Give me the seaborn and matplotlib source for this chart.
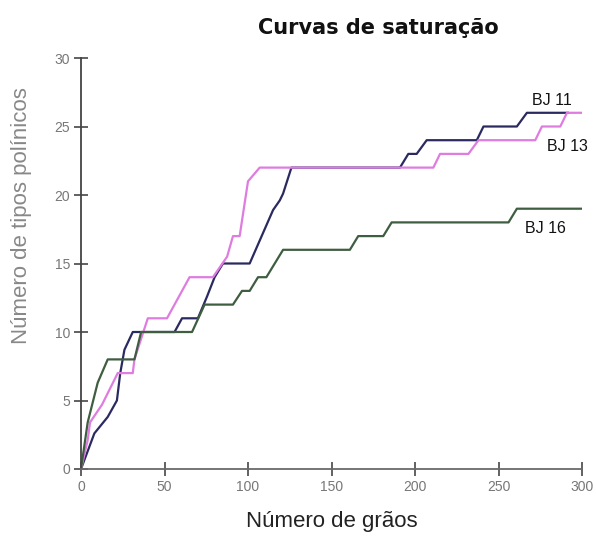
import matplotlib
matplotlib.use("Agg")
import matplotlib.pyplot as plt
import seaborn as sns
import pandas as pd

# Saturation curves: cumulative pollen types vs. grains counted
bj11_x = [0, 8, 16, 21.5, 23.5, 26, 31, 56, 60.5, 70, 75.5, 80, 85, 101, 115, 119, 121, 126,
          191, 196, 201, 207, 237, 241, 261, 267, 292]
bj11_y = [0, 2.6, 3.8, 5, 7, 8.7, 10, 10, 11, 11, 12.6, 14, 15, 15, 18.9, 19.6, 20.1, 22,
          22, 23, 23, 24, 24, 25, 25, 26, 26]

bj13_x = [0, 4, 5.4, 12.6, 22, 31, 32, 40, 51.5, 65, 79, 87.5, 91, 95, 100, 107,
          211, 215, 232, 238, 272, 276, 287, 291, 300]
bj13_y = [0, 2.1, 3.4, 4.7, 7, 7, 8, 11, 11, 14, 14, 15.5, 17, 17, 21, 22,
          22, 23, 23, 24, 24, 25, 25, 26, 26]

bj16_x = [0, 4, 10, 16, 32, 36, 66.5, 74, 91, 96.4, 101, 106, 111, 121,
          161, 166, 181, 186, 256, 261, 300]
bj16_y = [0, 3.4, 6.3, 8, 8, 10, 10, 12, 12, 13, 13, 14, 14, 16,
          16, 17, 17, 18, 18, 19, 19]

series_names = ["BJ 11", "BJ 13", "BJ 16"]
series_colors = ["#2b2a60", "#de7ce0", "#3f5d40"]

x_ticks = [0, 50, 100, 150, 200, 250, 300]
y_ticks = [0, 5, 10, 15, 20, 25, 30]

frames = []
for name, xs, ys in zip(series_names, [bj11_x, bj13_x, bj16_x], [bj11_y, bj13_y, bj16_y]):
    frames.append(pd.DataFrame({"grains": xs, "types": ys, "sample": name}))
df = pd.concat(frames, ignore_index=True)

sns.set_style("white")
plt.rcParams["font.family"] = ["Liberation Sans", "DejaVu Sans"]

fig = plt.figure(figsize=(5.96, 5.39), dpi=100)
ax = fig.add_axes([81 / 596, 70 / 539, 501 / 596, 411 / 539])

sns.lineplot(data=df, x="grains", y="types", hue="sample", sort=False,
             palette=dict(zip(series_names, series_colors)), linewidth=1.6,
             legend=False, ax=ax, estimator=None)

ax.set_xlim(0, 300)
ax.set_ylim(0, 30)
ax.set_xticks(x_ticks)
ax.set_yticks(y_ticks)
for s in ["top", "right"]:
    ax.spines[s].set_visible(False)
ax.spines["left"].set_color("#444444")
ax.spines["bottom"].set_color("#6a6a6a")
for s in ["left", "bottom"]:
    ax.spines[s].set_linewidth(1.3)
ax.tick_params(axis="both", which="major", bottom=True, left=True, direction="inout",
               length=10, width=1.3, color="#555555",
               labelsize=10, labelcolor="#777777", pad=3)

ax.set_xlabel("Número de grãos", fontsize=16, color="#222222", labelpad=12)
ax.set_ylabel("Número de tipos polínicos", fontsize=16, color="#888888")
ax.yaxis.set_label_coords(-0.097, 0.616)

# Series labels next to the curve ends
ax.text(270, 26.6, "BJ 11", fontsize=11.5, color="#111111")
ax.text(279, 23.2, "BJ 13", fontsize=11.5, color="#111111")
ax.text(266, 17.2, "BJ 16", fontsize=11.5, color="#111111")

fig.text(378 / 596, 1 - 28 / 539, "Curvas de saturação", ha="center", va="center",
         fontsize=15, fontweight="bold", color="#111111", family="DejaVu Sans")

fig.savefig("out.png", dpi=100, facecolor="white")
